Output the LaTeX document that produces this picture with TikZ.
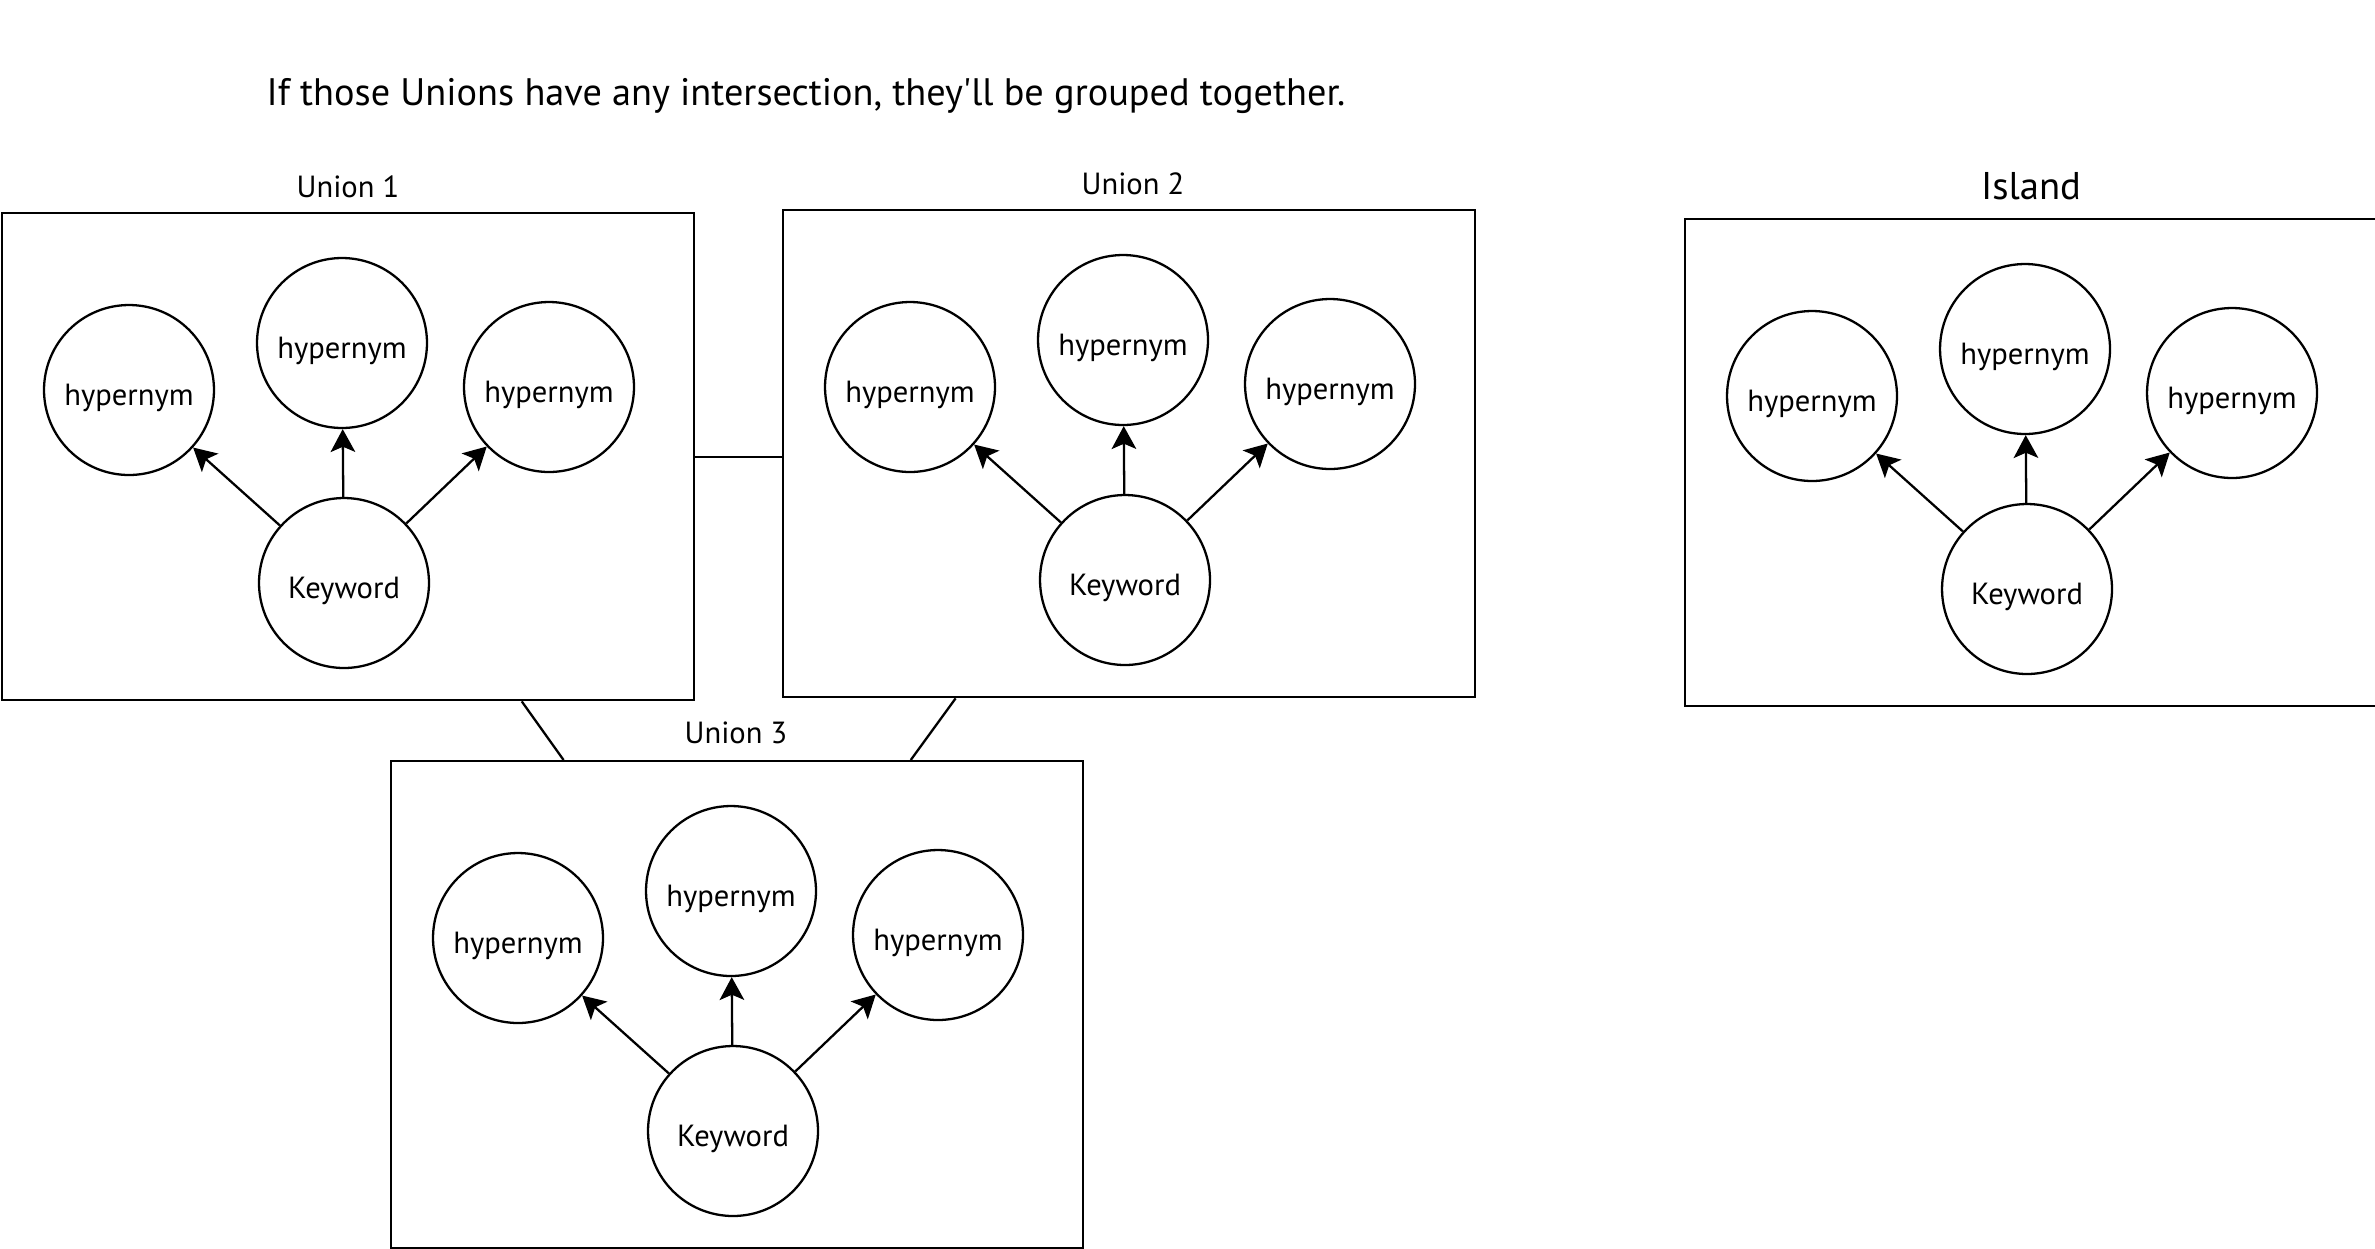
\documentclass[tikz,border=0pt]{standalone}
\usepackage{fontspec}
\newfontfamily\ptsans{PT Sans}
\usetikzlibrary{arrows.meta,calc}
\newcommand\wordgroup[3]{%
  \node[ubox] (#1) at (#2,#3) {};
  \node[hyp] (#1a) at ($(#2,#3)+(128,178)$) {hypernym};
  \node[hyp] (#1b) at ($(#2,#3)+(341,131)$) {hypernym};
  \node[hyp] (#1c) at ($(#2,#3)+(548,175)$) {hypernym};
  \node[hyp] (#1k) at ($(#2,#3)+(343,371)$) {Keyword};
  \draw[arr] (#1k) -- (#1a);
  \draw[arr] (#1k) -- (#1b);
  \draw[arr] (#1k) -- (#1c);
}
\begin{document}
\begin{tikzpicture}[x=0.02cm,y=-0.02cm,
  every node/.style={font=\ptsans\fontsize{17.4}{20}\selectfont},
  ubox/.style={draw,line width=1.4pt,rectangle,minimum width=13.84cm,minimum height=9.74cm,anchor=north west,inner sep=0pt},
  hyp/.style={draw,line width=1.3pt,circle,minimum size=3.4cm,inner sep=0pt,text height=0.62cm,text depth=0pt},
  link/.style={line width=1.3pt},
  arr/.style={line width=1.3pt,-{Stealth[length=13pt,width=14pt,inset=3pt]}},
  ulabel/.style={inner sep=0pt}]
\useasboundingbox (0,0) rectangle (2375,1248);
\node[ulabel,anchor=base,font=\ptsans\fontsize{21.8}{25}\selectfont] (title) at (806,105.7) {If those Unions have any intersection, they'll be grouped together.};
\wordgroup{u1}{1}{212}
\wordgroup{u2}{782}{209}
\wordgroup{u3}{390}{760}
\wordgroup{isl}{1684}{218}
\node[ulabel] (u1l) at (348,187) {Union 1};
\node[ulabel] (u2l) at (1133,184) {Union 2};
\node[ulabel] (u3l) at (736,733) {Union 3};
\node[ulabel,font=\ptsans\fontsize{22}{26}\selectfont] (isll) at (2031,186) {Island};
\draw[link] (u1.east) -- (u1.east -| u2.west);
\draw[link] ($(u1.south west)!0.75!(u1.south east)$) -- ($(u3.north west)!0.25!(u3.north east)$);
\draw[link] ($(u2.south west)!0.25!(u2.south east)$) -- ($(u3.north west)!0.75!(u3.north east)$);
\end{tikzpicture}
\end{document}
